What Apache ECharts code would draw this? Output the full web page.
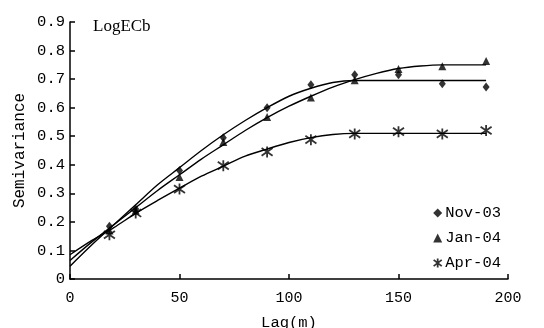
<!DOCTYPE html>
<html>
<head>
<meta charset="utf-8">
<script src="https://cdn.jsdelivr.net/npm/echarts@6/dist/echarts.min.js"></script>
<style>
  html, body { margin: 0; padding: 0; background: #fff; }
  #chart { width: 544px; height: 328px; }
</style>
</head>
<body>
<div id="chart"></div>
<script>
// observed semivariance points
const lags = [18, 30, 50, 70, 90, 110, 130, 150, 170, 190];
const nov03 = [0.185, 0.245, 0.38, 0.495, 0.60, 0.68, 0.715, 0.715, 0.684, 0.672];
const jan04 = [0.17, 0.24, 0.357, 0.48, 0.567, 0.636, 0.696, 0.735, 0.745, 0.763];
const apr04 = [0.155, 0.231, 0.315, 0.397, 0.445, 0.488, 0.508, 0.516, 0.508, 0.52];

// fitted model curves
const fitLags = [0, 10, 20, 30, 40, 50, 60, 70, 80, 90, 100, 110, 120, 130, 140, 150, 160, 170, 190];
const nov03Fit = [0.045, 0.12, 0.19, 0.26, 0.33, 0.39, 0.45, 0.505, 0.555, 0.60, 0.64, 0.668, 0.688, 0.695, 0.695, 0.695, 0.695, 0.695, 0.695];
const jan04Fit = [0.065, 0.13, 0.19, 0.25, 0.31, 0.365, 0.42, 0.47, 0.52, 0.565, 0.605, 0.64, 0.672, 0.698, 0.72, 0.737, 0.746, 0.75, 0.75];
const apr04Fit = [0.085, 0.135, 0.18, 0.23, 0.275, 0.318, 0.36, 0.395, 0.43, 0.455, 0.478, 0.495, 0.506, 0.51, 0.51, 0.51, 0.51, 0.51, 0.51];

const mono = "'Liberation Mono', monospace";
const ink = "#000";
const starPath = "path://M5,0L5,10M0.5,1.5L9.5,8.5M0.5,8.5L9.5,1.5";

const pairs = (xs, ys) => xs.map((x, i) => [x, ys[i]]);

const fitLine = (name, ys) => ({
  name: name,
  type: "line",
  data: pairs(fitLags, ys),
  smooth: 0.3,
  showSymbol: false,
  symbol: "none",
  silent: true,
  lineStyle: { color: ink, width: 1.4 },
  z: 2,
});

const chart = echarts.init(document.getElementById("chart"), null, { renderer: "canvas" });

chart.setOption({
  animation: false,
  backgroundColor: "#fff",
  title: {
    text: "LogECb",
    left: 88,
    top: 13,
    textStyle: { fontFamily: "'Liberation Serif', serif", fontSize: 17, fontWeight: "normal", color: ink },
  },
  grid: { left: 70, right: 36, top: 22, bottom: 49, outerBoundsMode: "none", containLabel: false },
  legend: {
    right: 38,
    top: 200,
    orient: "vertical",
    itemGap: 9,
    itemWidth: 9,
    itemHeight: 9,
    itemStyle: { borderWidth: 0 },
    textStyle: { fontFamily: mono, fontSize: 15.5, color: ink, padding: [0, 0, 0, -2] },
    data: [
      { name: "Nov-03", icon: "diamond", itemStyle: { color: ink } },
      { name: "Jan-04", icon: "triangle", itemStyle: { color: ink } },
      { name: "Apr-04", icon: starPath, itemStyle: { color: "transparent", borderColor: ink, borderWidth: 1.8 } },
    ],
  },
  xAxis: {
    type: "value",
    min: 0,
    max: 200,
    interval: 50,
    name: "Lag(m)",
    nameLocation: "middle",
    nameGap: 36,
    nameTextStyle: { fontFamily: mono, fontSize: 15.5, color: ink },
    axisLine: { lineStyle: { color: ink, width: 1.5 } },
    axisTick: { inside: true, length: 5, lineStyle: { color: ink, width: 1.5 } },
    axisLabel: { fontFamily: mono, fontSize: 15, color: ink, margin: 12 },
    splitLine: { show: false },
  },
  yAxis: {
    type: "value",
    min: 0,
    max: 0.9,
    interval: 0.1,
    name: "Semivariance",
    nameLocation: "middle",
    nameGap: 42,
    nameMoveOverlap: false,
    nameTextStyle: { fontFamily: mono, fontSize: 16, color: ink },
    axisLine: { show: true, lineStyle: { color: ink, width: 1.5 } },
    axisTick: { show: true, inside: true, length: 5, lineStyle: { color: ink, width: 1.5 } },
    axisLabel: {
      fontFamily: mono,
      fontSize: 15.5,
      color: ink,
      margin: 5,
      formatter: (v) => (v === 0 ? "0" : v.toFixed(1)),
    },
    splitLine: { show: false },
  },
  series: [
    fitLine("fitNov", nov03Fit),
    fitLine("fitJan", jan04Fit),
    fitLine("fitApr", apr04Fit),
    {
      name: "Nov-03",
      type: "scatter",
      data: pairs(lags, nov03),
      symbol: "diamond",
      symbolSize: [7, 9],
      itemStyle: { color: ink },
      z: 3,
    },
    {
      name: "Jan-04",
      type: "scatter",
      data: pairs(lags, jan04),
      symbol: "triangle",
      symbolSize: [8, 8],
      itemStyle: { color: ink },
      z: 3,
    },
    {
      name: "Apr-04",
      type: "scatter",
      data: pairs(lags, apr04),
      symbol: starPath,
      symbolSize: 11,
      itemStyle: { color: "transparent", borderColor: ink, borderWidth: 1.8 },
      z: 3,
    },
  ],
});
</script>
</body>
</html>
